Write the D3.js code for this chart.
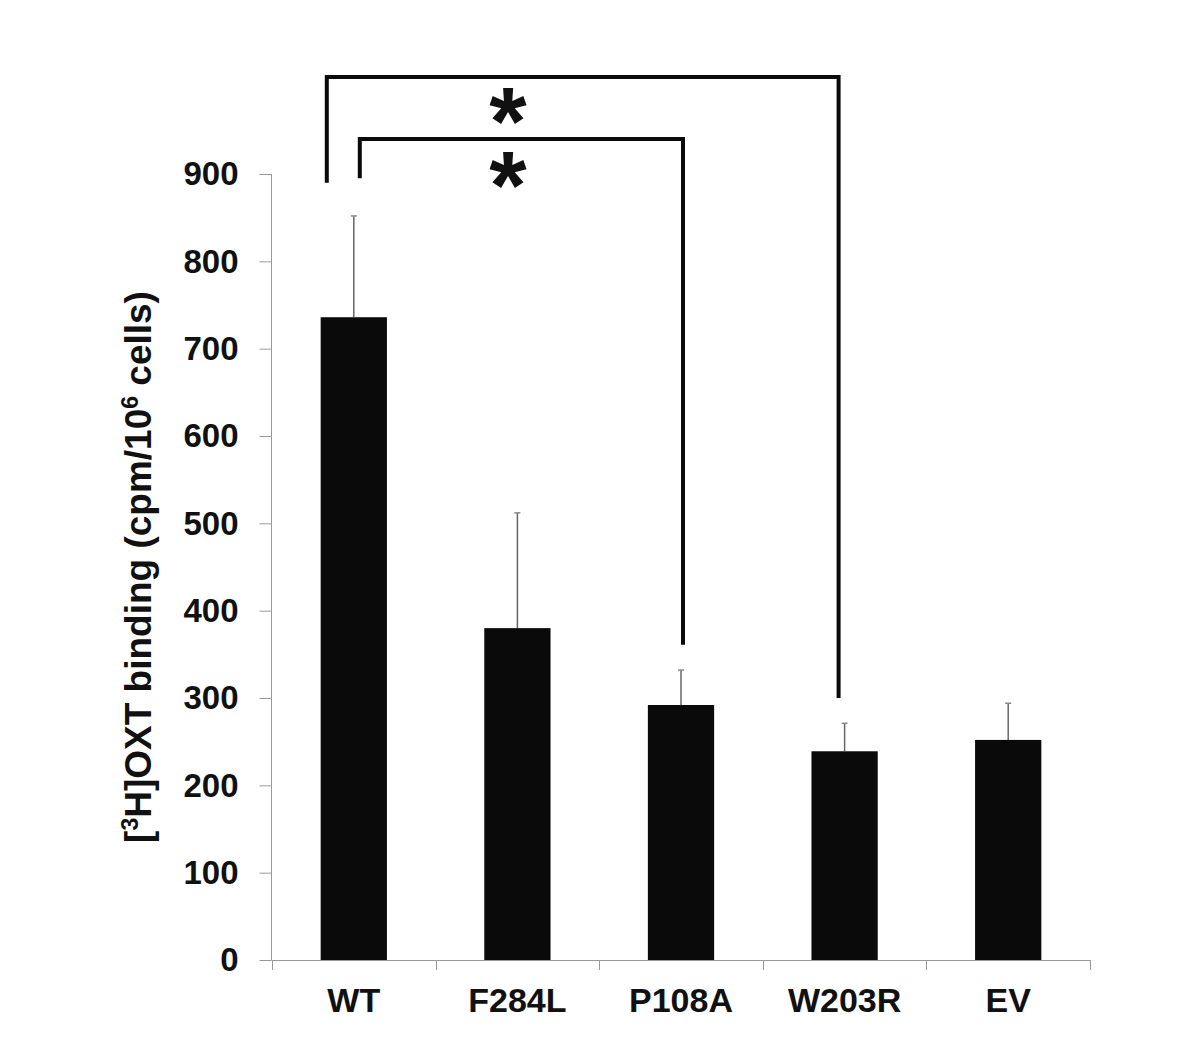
<!DOCTYPE html>
<html>
<head>
<meta charset="utf-8">
<script src="https://cdn.jsdelivr.net/npm/d3@7"></script>
<style>
  html, body { margin: 0; padding: 0; background: #fff; }
  svg { display: block; }
  text { font-family: "Liberation Sans", Arial, sans-serif; font-weight: bold; fill: #111; }
</style>
</head>
<body>
<script>
const categories = ["WT", "F284L", "P108A", "W203R", "EV"];
const means = [736, 380, 292, 239, 252];
const errUp = [116, 132, 40, 32, 42];
const yTicks = [0, 100, 200, 300, 400, 500, 600, 700, 800, 900];
// significance brackets
const bracketFrom = ["WT", "WT"];
const bracketTo = ["W203R", "P108A"];
const bracketTop = [1011, 940];
const bracketLeftEnd = [890, 895];
const bracketRightEnd = [300, 361];
const bracketLeftShift = [-27, 6];
const bracketRightShift = [-6, 2];
const starLabel = ["*", "*"];

const W = 1200, H = 1047;
const svg = d3.select("body").append("svg").attr("width", W).attr("height", H);

const x = d3.scaleBand().domain(categories).range([272, 1090]).padding(0);
const y = d3.scaleLinear().domain([0, 900]).range([960, 174]);
const barW = x.bandwidth() * 0.405;
const axisColor = "#9a9a9a";

// y axis
const yAxis = svg.append("g").attr("transform", "translate(271.5,0)")
  .call(d3.axisLeft(y).tickValues(yTicks).tickSize(12).tickPadding(21).tickFormat(d3.format("d")));
yAxis.select(".domain").attr("stroke", axisColor).attr("d", `M0,${y(900)}V${y(0)}`);
yAxis.selectAll(".tick line").attr("stroke", axisColor);
yAxis.selectAll(".tick text").style("font-size", "33px").style("font-weight", "bold")
  .style("font-family", '"Liberation Sans", Arial, sans-serif').attr("fill", "#111").attr("dy", "0.33em");

// x axis line
svg.append("line").attr("x1", 271.5).attr("x2", 1090).attr("y1", 960.5).attr("y2", 960.5)
  .attr("stroke", axisColor);
const bounds = categories.map(c => x(c)).concat([x.range()[1]]);
svg.selectAll(".xt").data(bounds).join("line")
  .attr("x1", d => Math.round(d) + 0.5).attr("x2", d => Math.round(d) + 0.5)
  .attr("y1", 960).attr("y2", 970).attr("stroke", axisColor);
svg.selectAll(".xl").data(categories).join("text")
  .attr("x", d => x(d) + x.bandwidth() / 2).attr("y", 1012)
  .attr("text-anchor", "middle").style("font-size", "34px").text(d => d);

// error bars
const errG = svg.append("g");
categories.forEach((c, i) => {
  const cx = x(c) + x.bandwidth() / 2;
  errG.append("line").attr("x1", cx).attr("x2", cx)
    .attr("y1", y(means[i])).attr("y2", y(means[i] + errUp[i]))
    .attr("stroke", "#666").attr("stroke-width", 1.5);
  errG.append("line").attr("x1", cx - 3).attr("x2", cx + 3)
    .attr("y1", y(means[i] + errUp[i])).attr("y2", y(means[i] + errUp[i]))
    .attr("stroke", "#888").attr("stroke-width", 1.5);
});

// bars
svg.selectAll(".bar").data(categories).join("rect")
  .attr("x", d => x(d) + (x.bandwidth() - barW) / 2)
  .attr("width", barW)
  .attr("y", (d, i) => y(means[i]))
  .attr("height", (d, i) => y(0) - y(means[i]))
  .attr("fill", "#0a0a0a");

// brackets
bracketFrom.forEach((f, i) => {
  const xl = x(f) + x.bandwidth() / 2 + bracketLeftShift[i];
  const xr = x(bracketTo[i]) + x.bandwidth() / 2 + bracketRightShift[i];
  const yt = y(bracketTop[i]);
  svg.append("path")
    .attr("d", `M${xl},${y(bracketLeftEnd[i])}V${yt}H${xr}V${y(bracketRightEnd[i])}`)
    .attr("fill", "none").attr("stroke", "#0a0a0a").attr("stroke-width", 4)
    .attr("stroke-linejoin", "miter");
  svg.append("text").attr("x", 508).attr("y", yt + (i === 0 ? 77 : 79))
    .attr("text-anchor", "middle").style("font-size", "96px").text(starLabel[i]);
});

// y title
const title = svg.append("text")
  .attr("transform", "translate(151,567) rotate(-90)")
  .attr("text-anchor", "middle").style("font-size", "37px");
title.append("tspan").text("[");
title.append("tspan").attr("baseline-shift", "super").style("font-size", "23px").text("3");
title.append("tspan").text("H]OXT binding (cpm/10");
title.append("tspan").attr("baseline-shift", "super").style("font-size", "23px").text("6");
title.append("tspan").text(" cells)");
</script>
</body>
</html>
